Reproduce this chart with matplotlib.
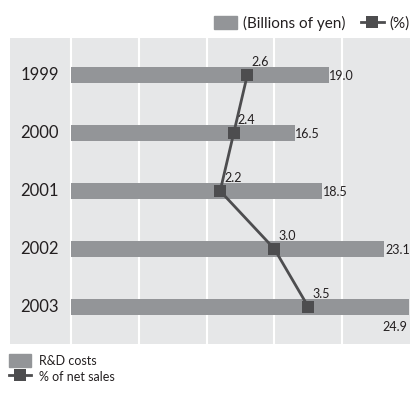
import matplotlib.pyplot as plt
from matplotlib.patches import Patch
from matplotlib.lines import Line2D

years = ['1999', '2000', '2001', '2002', '2003']
rd_costs = [19.0, 16.5, 18.5, 23.1, 24.9]
pct_sales = [2.6, 2.4, 2.2, 3.0, 3.5]

bar_color = '#939598'
line_color = '#4d4d4f'
bg_color = '#e6e7e8'
text_color = '#231f20'

plt.rcParams['font.family'] = ['Lato', 'DejaVu Sans']

fig = plt.figure(figsize=(4.12, 3.97), dpi=100)
ax = fig.add_axes([10/412, 1 - 344/397, 400/412, 306/397])
ax.set_facecolor(bg_color)

y = list(range(len(years)))
ax.barh(y, rd_costs, height=0.28, color=bar_color, zorder=2)

# percentage line on a second x scale (0-5% spans same width as 0-25)
ax2 = ax.twiny()
ax2.plot(pct_sales, y, color=line_color, lw=2, marker='s', ms=9,
         markeredgewidth=0, zorder=3)

ax.set_xlim(-4.5, 25)
ax2.set_xlim(-0.9, 5)
ax.set_ylim(4.64, -0.64)
ax2.set_ylim(4.64, -0.64)

ax.set_xticks([0, 5, 10, 15, 20])
ax.grid(axis='x', color='white', lw=1.5, zorder=1)
ax.set_axisbelow(True)
ax.tick_params(axis='x', length=0, labelbottom=False)
ax2.set_xticks([])
ax.set_yticks([])
for s in list(ax.spines.values()) + list(ax2.spines.values()):
    s.set_visible(False)

for i, v in enumerate(rd_costs):
    if v > 24:
        ax.annotate(f'{v:.1f}', (v, i), xytext=(-1, -10), textcoords='offset points',
                    ha='right', va='top', fontsize=9, color=text_color)
    else:
        ax.annotate(f'{v:.1f}', (v, i), xytext=(0.5, -1), textcoords='offset points',
                    ha='left', va='center', fontsize=9, color=text_color)
    ax.annotate(years[i], (-0.9, i), xytext=(0, 0), textcoords='offset points',
                ha='right', va='center', fontsize=12, color=text_color)

for i, p in enumerate(pct_sales):
    ax2.annotate(f'{p:.1f}', (p, i), xytext=(3, 5), textcoords='offset points',
                 ha='left', va='bottom', fontsize=9, color=text_color)

top_handles = [Patch(color=bar_color),
               Line2D([], [], color=line_color, lw=2, marker='s', ms=8, markeredgewidth=0)]
fig.legend(top_handles, ['(Billions of yen)', '(%)'], ncol=2, frameon=False,
           loc='lower right', bbox_to_anchor=(1.01, 1 - 37/397), fontsize=11,
           handlelength=1.5, handleheight=1.0, handletextpad=0.4, columnspacing=1.0,
           borderaxespad=0, labelcolor=text_color)

bot_handles = [Patch(color=bar_color),
               Line2D([], [], color=line_color, lw=2, marker='s', ms=8, markeredgewidth=0)]
fig.legend(bot_handles, ['R&D costs', '% of net sales'], ncol=1, frameon=False,
           loc='upper left', bbox_to_anchor=(9/412, 1 - 354/397), fontsize=9,
           handlelength=1.8, handleheight=1.2, handletextpad=0.6, labelspacing=0.25,
           borderaxespad=0, borderpad=0, labelcolor=text_color)

fig.savefig('out.png', dpi=100, facecolor='white')
